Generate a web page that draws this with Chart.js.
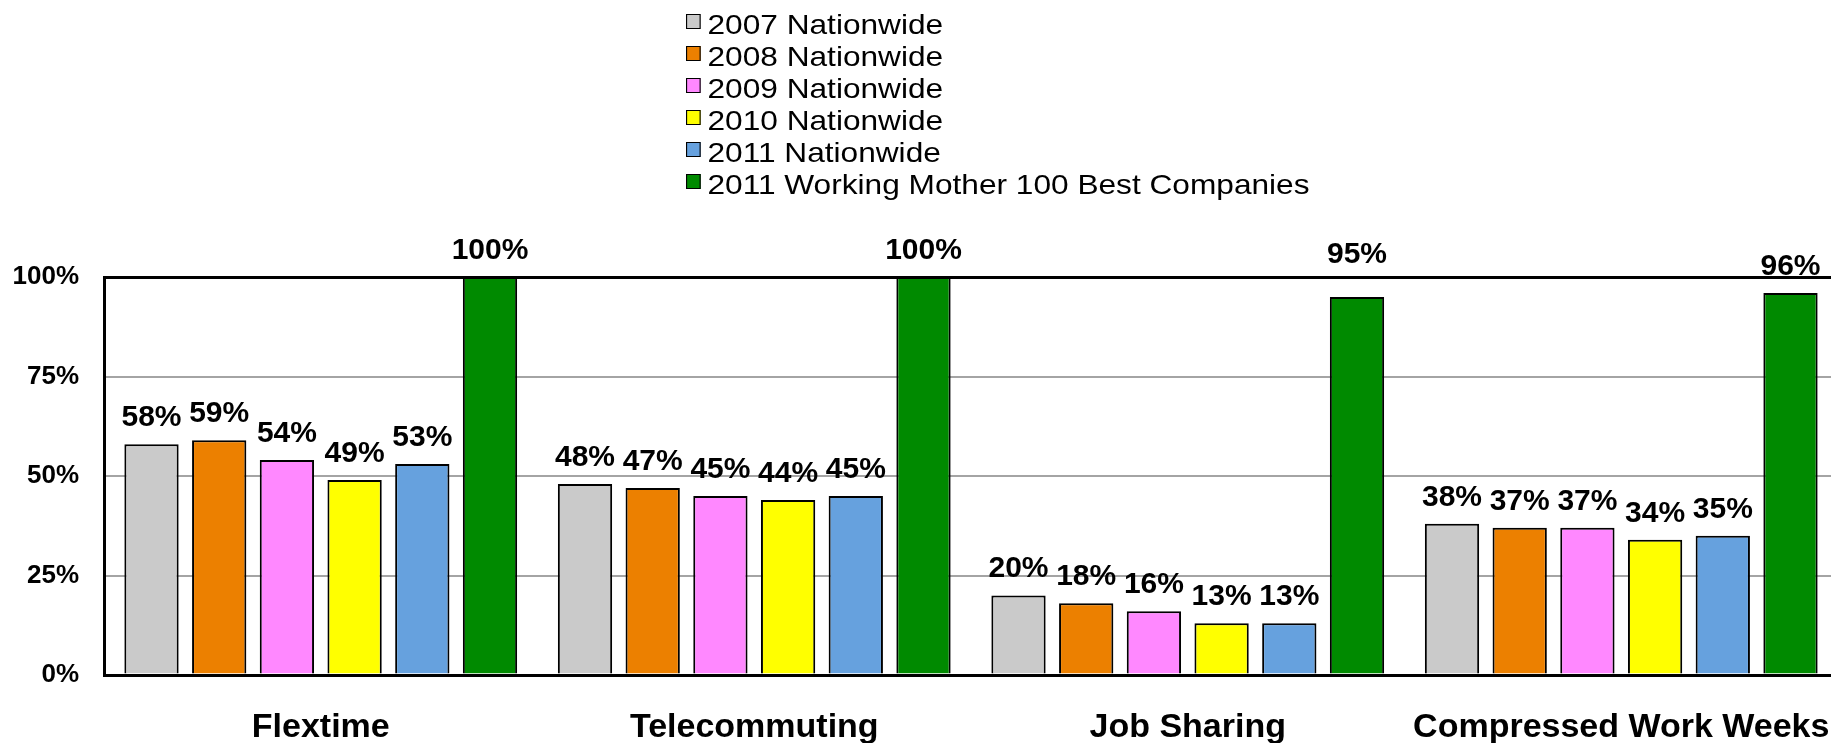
<!DOCTYPE html>
<html>
<head>
<meta charset="utf-8">
<script src="https://cdn.jsdelivr.net/npm/chart.js@4/dist/chart.umd.min.js"></script>
<style>
  body { margin: 0; overflow: hidden; background: #fff; }
  #wrap { position: relative; width: 1838px; height: 743px; }
  #chart { display: block; }
  #legend { position: absolute; left: 686px; top: 9px; font: 28px 'Liberation Sans', Arial, sans-serif; color: #000; transform: scaleX(1.13); transform-origin: 0 0; }
  #legend div { height: 32px; line-height: 32px; white-space: nowrap; }
  #legend span.box { display: inline-block; width: 11px; height: 13px; border: 1.5px solid #000; margin-right: 6px; vertical-align: 5px; }
</style>
</head>
<body>
<div id="wrap">
  <canvas id="chart" width="1838" height="743"></canvas>
  <div id="legend"></div>
</div>
<script>
const categories = ['Flextime', 'Telecommuting', 'Job Sharing', 'Compressed Work Weeks'];
const seriesNames = ['2007 Nationwide', '2008 Nationwide', '2009 Nationwide', '2010 Nationwide', '2011 Nationwide', '2011 Working Mother 100 Best Companies'];
const nat2007 = [58, 48, 20, 38];
const nat2008 = [59, 47, 18, 37];
const nat2009 = [54, 45, 16, 37];
const nat2010 = [49, 44, 13, 34];
const nat2011 = [53, 45, 13, 35];
const best2011 = [100, 100, 95, 96];
const yTicks = [0, 25, 50, 75, 100];

const colors = ['#CACACA', '#EC8000', '#FF88FF', '#FFFF00', '#66A1DE', '#008A00'];
const fontFamily = "'Liberation Sans', Arial, sans-serif";
Chart.defaults.font.family = fontFamily;
Chart.defaults.color = '#000';

// value labels above each bar; a label that would sit on the top border is lifted above it
const valueLabels = {
  id: 'valueLabels',
  afterDatasetsDraw(chart) {
    const ctx = chart.ctx;
    const top = chart.chartArea.top;
    ctx.save();
    ctx.font = 'bold 30px ' + fontFamily;
    ctx.fillStyle = '#000';
    ctx.textAlign = 'center';
    ctx.textBaseline = 'alphabetic';
    chart.data.datasets.forEach((ds, i) => {
      chart.getDatasetMeta(i).data.forEach((bar, j) => {
        let y = bar.y - 18;
        if (y > top - 2 && y - 22 < top) y = top - 14;
        ctx.fillText(ds.data[j] + '%', bar.x, y);
      });
    });
    ctx.restore();
  }
};

const seriesData = [nat2007, nat2008, nat2009, nat2010, nat2011, best2011];

const chart = new Chart(document.getElementById('chart').getContext('2d'), {
  type: 'bar',
  data: {
    labels: categories,
    datasets: seriesData.map((d, i) => ({
      label: seriesNames[i],
      data: d,
      backgroundColor: colors[i],
      borderColor: '#000',
      borderWidth: 2,
      categoryPercentage: 0.937,
      barPercentage: 0.802
    }))
  },
  options: {
    responsive: false,
    animation: false,
    layout: { padding: { top: 277, left: 0, right: 0, bottom: 0 } },
    plugins: {
      legend: { display: false },
      tooltip: { enabled: false }
    },
    scales: {
      x: {
        grid: { display: false, drawTicks: false },
        border: { display: true, color: '#000', width: 3 },
        ticks: { font: { size: 34, weight: 'bold' }, color: '#000', padding: 32 },
        // the last label runs past the edge in the original, so no side padding
        afterFit: scale => { scale.height = 68; scale.paddingLeft = 0; scale.paddingRight = 0; }
      },
      y: {
        min: 0,
        max: 100,
        afterBuildTicks: scale => { scale.ticks = yTicks.map(v => ({ value: v })); },
        grid: {
          drawTicks: false,
          color: c => (c.tick.value === 0 || c.tick.value === 100) ? '#000' : '#A4A4A4',
          lineWidth: c => (c.tick.value === 0 || c.tick.value === 100) ? 3 : 2
        },
        border: { display: true, color: '#000', width: 3 },
        ticks: { font: { size: 26, weight: 'bold' }, color: '#000', padding: 25, callback: v => v + '%' },
        afterFit: scale => { scale.width = 104; }
      }
    }
  },
  plugins: [valueLabels]
});

// legend as a vertical list above the plot
const legendEl = document.getElementById('legend');
chart.data.datasets.forEach(ds => {
  const row = document.createElement('div');
  const box = document.createElement('span');
  box.className = 'box';
  box.style.background = ds.backgroundColor;
  row.appendChild(box);
  row.appendChild(document.createTextNode(ds.label));
  legendEl.appendChild(row);
});
</script>
</body>
</html>
